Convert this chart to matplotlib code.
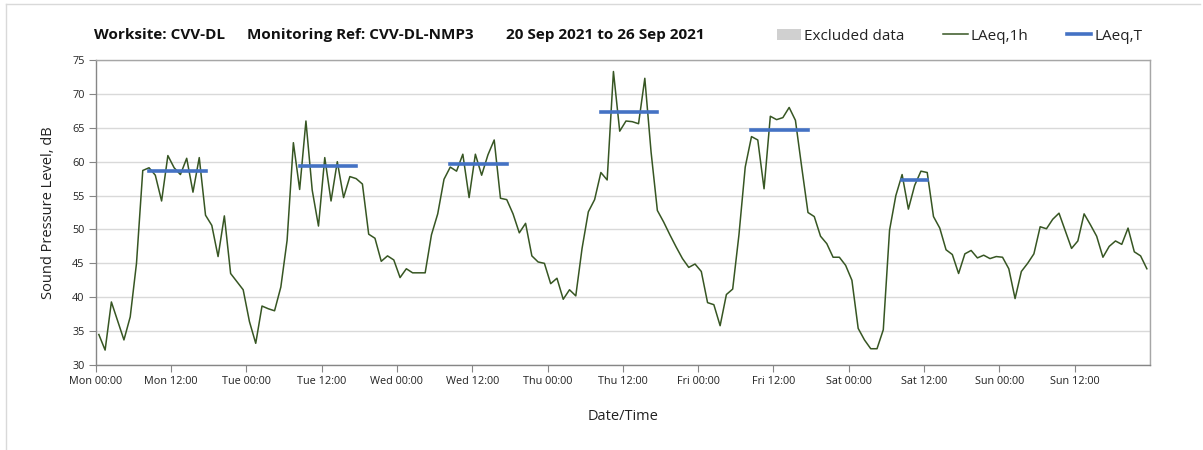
import matplotlib
matplotlib.use("Agg")
import matplotlib.pyplot as plt
from matplotlib.lines import Line2D
from matplotlib.patches import Patch
import numpy as np

plt.rcParams['font.family'] = ['Open Sans', 'DejaVu Sans']

# ---- data ----
title_parts = ["Worksite: CVV-DL", "Monitoring Ref: CVV-DL-NMP3", "20 Sep 2021 to 26 Sep 2021"]
laeq_1h = [
    34.5, 32.2, 39.3, 36.5, 33.7, 37.1, 45.0, 58.7, 59.1, 58.0, 54.2, 60.9,
    59.1, 58.1, 60.5, 55.5, 60.6, 52.1, 50.6, 46.0, 52.0, 43.5, 42.3, 41.1,
    36.4, 33.2, 38.7, 38.3, 38.0, 41.5, 48.4, 62.8, 55.9, 66.0, 55.8, 50.5,
    60.6, 54.2, 60.0, 54.7, 57.8, 57.5, 56.7, 49.3, 48.7, 45.3, 46.1, 45.5,
    42.9, 44.2, 43.6, 43.6, 43.6, 49.2, 52.3, 57.4, 59.2, 58.6, 61.1, 54.7,
    61.1, 58.0, 61.0, 63.2, 54.6, 54.4, 52.3, 49.5, 50.9, 46.1, 45.2, 45.0,
    42.0, 42.8, 39.7, 41.1, 40.2, 47.2, 52.6, 54.4, 58.4, 57.3, 73.3, 64.5,
    66.0, 65.9, 65.6, 72.3, 61.4, 52.8, 51.1, 49.2, 47.4, 45.7, 44.4, 44.9,
    43.8, 39.2, 38.9, 35.8, 40.4, 41.2, 49.2, 59.2, 63.7, 63.2, 56.0, 66.7,
    66.2, 66.5, 68.0, 66.1, 59.2, 52.5, 51.9, 49.0, 47.9, 45.9, 45.9, 44.7,
    42.5, 35.4, 33.7, 32.4, 32.4, 35.2, 49.9, 55.0, 58.1, 53.0, 56.5, 58.6,
    58.4, 51.9, 50.2, 47.0, 46.3, 43.5, 46.4, 46.9, 45.8, 46.2, 45.7, 46.0,
    45.9, 44.2, 39.8, 43.8, 45.0, 46.4, 50.4, 50.1, 51.5, 52.4, 49.8, 47.2,
    48.3, 52.3, 50.7, 49.0, 45.9, 47.5, 48.3, 47.8, 50.2, 46.7, 46.1, 44.2,
]
# LAeq,T periods: day index, start hour, end hour, level
laeqT_day = [0, 1, 2, 3, 4, 5]
laeqT_start = [8, 8, 8, 8, 8, 8]
laeqT_end = [18, 18, 18, 18, 18, 13]
laeqT_value = [58.6, 59.4, 59.6, 67.4, 64.7, 57.3]

xtick_labels = ["Mon 00:00", "Mon 12:00", "Tue 00:00", "Tue 12:00", "Wed 00:00",
                "Wed 12:00", "Thu 00:00", "Thu 12:00", "Fri 00:00", "Fri 12:00",
                "Sat 00:00", "Sat 12:00", "Sun 00:00", "Sun 12:00"]
yticks = [30, 35, 40, 45, 50, 55, 60, 65, 70, 75]

# ---- figure ----
W, H = 1203, 450
fig = plt.figure(figsize=(W / 100, H / 100), dpi=100)
ax = fig.add_axes([95.7 / W, 1 - 365 / H, (1150 - 95.7) / W, (365 - 60) / H])

hours = np.arange(len(laeq_1h)) + 0.5
ax.plot(hours, laeq_1h, color='#375623', lw=1.1, zorder=3)
for d, s, e, v in zip(laeqT_day, laeqT_start, laeqT_end, laeqT_value):
    ax.plot([d * 24 + s + 0.5, d * 24 + e - 0.5], [v, v], color='#4472C4',
            lw=2.6, solid_capstyle='projecting', zorder=4)

ax.set_xlim(0, 168)
ax.set_ylim(30, 75)
ax.set_xticks(np.arange(0, 168, 12))
ax.set_xticklabels(xtick_labels, fontsize=7.8, color='#222222')
ax.set_xticks(np.arange(0, 169, 24), minor=True)
ax.set_yticks(yticks)
ax.set_yticklabels([str(y) for y in yticks], fontsize=7.8, color='#222222')
ax.tick_params(axis='x', which='major', length=5, color='#868686', direction='out', pad=3)
ax.tick_params(axis='x', which='minor', length=0)
ax.tick_params(axis='y', length=5, color='#868686', direction='out', pad=3)
ax.grid(axis='y', color='#d9d9d9', lw=1.0, zorder=0)
ax.grid(axis='x', which='minor', color='#d9d9d9', lw=1.0, zorder=0)
ax.set_axisbelow(True)
for sp in ['left', 'bottom']:
    ax.spines[sp].set_color('#868686')
    ax.spines[sp].set_linewidth(1.0)
for sp in ['top', 'right']:
    ax.spines[sp].set_color('#a6a6a6')
    ax.spines[sp].set_linewidth(1.0)

ax.set_ylabel("Sound Pressure Level, dB", fontsize=10.5, color='#222222', labelpad=12)
ax.set_xlabel("Date/Time", fontsize=10.5, color='#222222', labelpad=16)

for xpx, part in zip([94, 247, 506], title_parts):
    fig.text(xpx / W, 1 - 35 / H, part, fontsize=11, fontweight='bold',
             ha='left', va='center', color='#111111')

handles = [Patch(facecolor='#d0d0d0', edgecolor='none'),
           Line2D([0], [0], color='#375623', lw=1.1),
           Line2D([0], [0], color='#4472C4', lw=2.6)]
labels = ["Excluded data", "LAeq,1h", "LAeq,T"]
fig.legend(handles, labels, ncol=3, loc='center left',
           bbox_to_anchor=(777 / W, 1 - 36 / H), frameon=False, fontsize=11,
           handlelength=1.6, handletextpad=0.2, columnspacing=2.5,
           borderpad=0, borderaxespad=0, labelcolor='#222222')

# outer chart frame
fig.add_artist(Line2D([6 / W, 1200 / W], [1 - 4 / H, 1 - 4 / H], color='#d9d9d9', lw=1))
fig.add_artist(Line2D([6 / W, 6 / W], [1 - 4 / H, 0], color='#d9d9d9', lw=1))

fig.savefig("out.png", dpi=100, facecolor='white')
